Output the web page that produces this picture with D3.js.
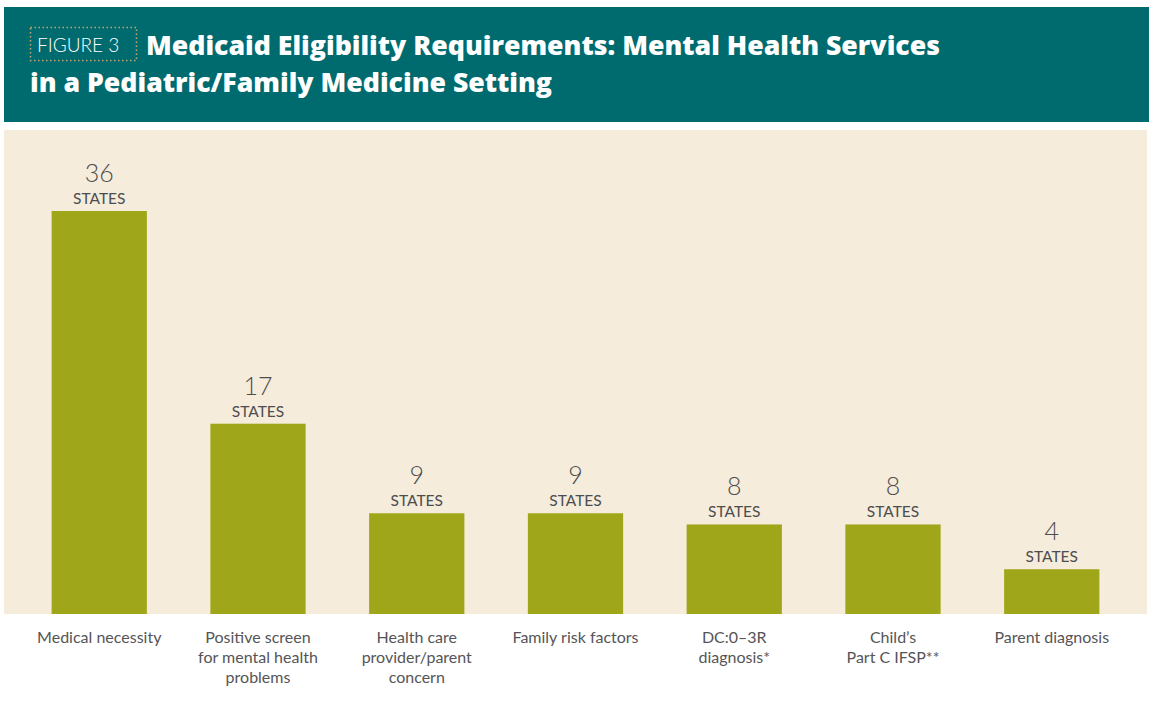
<!DOCTYPE html>
<html>
<head>
<meta charset="utf-8">
<script src="https://cdn.jsdelivr.net/npm/d3@7"></script>
<style>
  html, body { margin: 0; padding: 0; background: #fff; }
  svg { display: block; }
</style>
</head>
<body>
<script>
const categories = [
  ["Medical necessity"],
  ["Positive screen", "for mental health", "problems"],
  ["Health care", "provider/parent", "concern"],
  ["Family risk factors"],
  ["DC:0\u20133R", "diagnosis*"],
  ["Child\u2019s", "Part C IFSP**"],
  ["Parent diagnosis"]
];
const states = [36, 17, 9, 9, 8, 8, 4];
const titleLines = ["Medicaid Eligibility Requirements: Mental Health Services", "in a Pediatric/Family Medicine Setting"];

const width = 1149;
const height = 727;

const svg = d3.select("body").append("svg")
  .attr("width", width)
  .attr("height", height);

// header band
svg.append("rect")
  .attr("x", 4).attr("y", 7)
  .attr("width", width - 4).attr("height", 115)
  .attr("fill", "#006b6f");

svg.append("rect")
  .attr("x", 30.5).attr("y", 27.5)
  .attr("width", 106).attr("height", 33)
  .attr("fill", "none")
  .attr("stroke", "#c9a46c")
  .attr("stroke-width", 1.5)
  .attr("stroke-dasharray", "1.5,2.5");

svg.append("text")
  .attr("x", 37).attr("y", 52)
  .attr("fill", "#fff")
  .attr("font-family", "Lato, sans-serif")
  .attr("font-weight", 300)
  .attr("font-size", 19)
  .text("FIGURE 3");

// title lines, font size fitted to the reference widths
const titleSpec = [
  { x: 146, y: 55, w: 794 },
  { x: 30, y: 92, w: 522 }
];
titleLines.forEach((line, i) => {
  const t = svg.append("text")
    .attr("x", titleSpec[i].x).attr("y", titleSpec[i].y)
    .attr("fill", "#fff")
    .attr("font-family", "'Open Sans', sans-serif")
    .attr("font-weight", 800)
    .attr("font-size", 26)
    .text(line);
  const len = t.node().getComputedTextLength();
  t.attr("font-size", Math.min(28, 26 * titleSpec[i].w / len))
    .attr("textLength", titleSpec[i].w)
    .attr("lengthAdjust", "spacing");
});

// plot panel
const panel = { x0: 4, x1: 1147, top: 130, bottom: 614 };
svg.append("rect")
  .attr("x", panel.x0).attr("y", panel.top)
  .attr("width", panel.x1 - panel.x0).attr("height", panel.bottom - panel.top)
  .attr("fill", "#f5ecdc");

const x = d3.scaleBand()
  .domain(d3.range(states.length))
  .range([panel.x0, panel.x1])
  .paddingInner(0.4)
  .paddingOuter(0.3);

const y = d3.scaleLinear()
  .domain([0, 36])
  .range([panel.bottom, 211]);

const g = svg.append("g");

g.selectAll("rect.bar")
  .data(states)
  .join("rect")
  .attr("class", "bar")
  .attr("x", (d, i) => x(i))
  .attr("y", d => y(d))
  .attr("width", x.bandwidth())
  .attr("height", d => y(0) - y(d))
  .attr("fill", "#a0a61a");

g.selectAll("text.val")
  .data(states)
  .join("text")
  .attr("class", "val")
  .attr("x", (d, i) => x(i) + x.bandwidth() / 2)
  .attr("y", d => y(d) - 29)
  .attr("text-anchor", "middle")
  .attr("fill", "#4d4d4f")
  .attr("font-family", "Lato, sans-serif")
  .attr("font-weight", 300)
  .attr("font-size", 25)
  .text(d => d);

g.selectAll("text.unit")
  .data(states)
  .join("text")
  .attr("class", "unit")
  .attr("x", (d, i) => x(i) + x.bandwidth() / 2)
  .attr("y", d => y(d) - 7)
  .attr("text-anchor", "middle")
  .attr("fill", "#4d4d4f")
  .attr("font-family", "Lato, sans-serif")
  .attr("font-weight", 400)
  .attr("font-size", 15.5)
  .text("STATES");

const labels = g.selectAll("text.cat")
  .data(categories)
  .join("text")
  .attr("class", "cat")
  .attr("text-anchor", "middle")
  .attr("fill", "#555557")
  .attr("font-family", "Lato, sans-serif")
  .attr("font-weight", 400)
  .attr("font-size", 16);

labels.selectAll("tspan")
  .data((d, i) => d.map(line => ({ line, i })))
  .join("tspan")
  .attr("x", d => x(d.i) + x.bandwidth() / 2)
  .attr("y", (d, j) => 643 + j * 20)
  .text(d => d.line);
</script>
</body>
</html>
